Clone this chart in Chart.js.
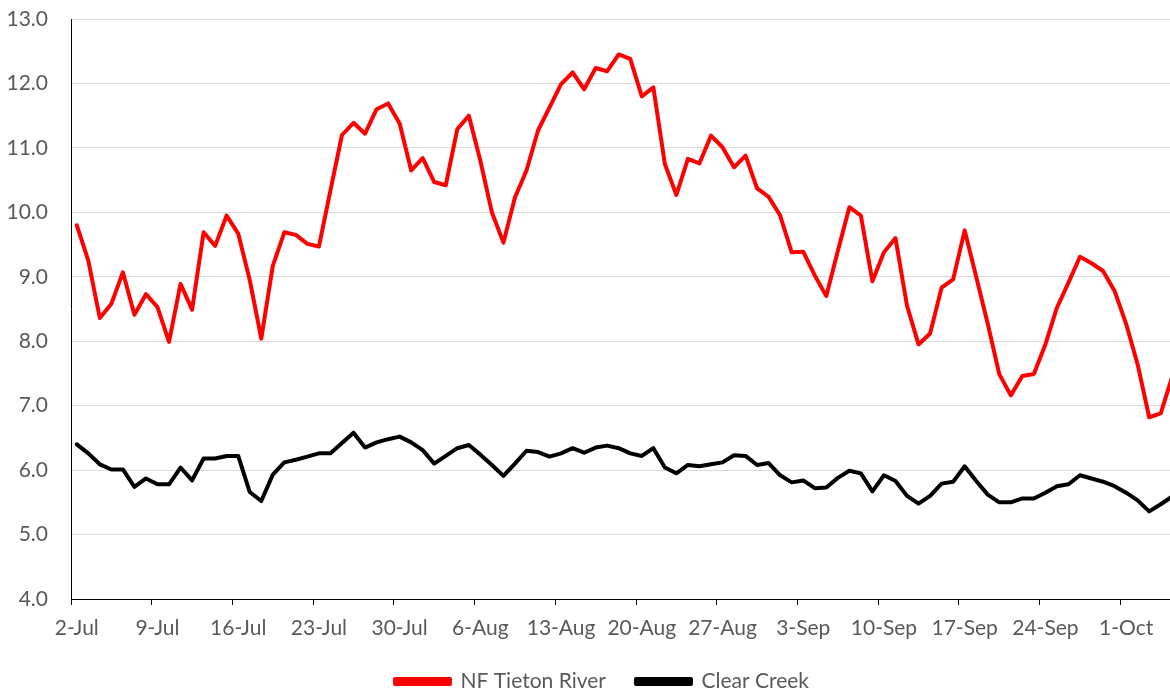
<!DOCTYPE html>
<html>
<head>
<meta charset="utf-8">
<script src="https://cdn.jsdelivr.net/npm/chart.js@4.4.1/dist/chart.umd.min.js"></script>
<style>
  html, body { margin: 0; padding: 0; background: #ffffff; overflow: hidden; }
  #wrap { width: 1204px; height: 692px; }
</style>
</head>
<body>
<div id="wrap"><canvas id="chart" width="1204" height="692"></canvas></div>
<script>
// Daily categories, 2 July to 5 October
const monthNames = ['Jul', 'Aug', 'Sep', 'Oct'];
const monthDays = [31, 31, 30, 31];
const firstDay = 2;
const dayCount = 96;

function buildDayLabels() {
  const out = [];
  let m = 0, d = firstDay;
  for (let i = 0; i < dayCount; i++) {
    out.push(d + '-' + monthNames[m]);
    d++;
    if (d > monthDays[m]) { d = 1; m++; }
  }
  return out;
}
const dayLabels = buildDayLabels();

// Series values (one per day)
const tietonRiver = [
  9.80, 9.25, 8.36, 8.58, 9.07, 8.41, 8.73, 8.53, 7.99, 8.89,
  8.49, 9.69, 9.48, 9.95, 9.67, 8.95, 8.04, 9.17, 9.69, 9.65,
  9.51, 9.47, 10.34, 11.20, 11.39, 11.22, 11.60, 11.69, 11.38, 10.65,
  10.84, 10.47, 10.42, 11.29, 11.50, 10.80, 10.00, 9.53, 10.23, 10.65,
  11.27, 11.63, 11.99, 12.17, 11.91, 12.24, 12.19, 12.45, 12.38, 11.80,
  11.94, 10.75, 10.27, 10.83, 10.76, 11.19, 11.01, 10.70, 10.88, 10.37,
  10.24, 9.95, 9.38, 9.39, 9.02, 8.70, 9.40, 10.08, 9.95, 8.93,
  9.38, 9.60, 8.55, 7.95, 8.12, 8.83, 8.96, 9.72, 9.00, 8.27,
  7.49, 7.16, 7.46, 7.49, 7.95, 8.52, 8.91, 9.31, 9.21, 9.09,
  8.78, 8.27, 7.64, 6.82, 6.88, 7.45
];

const clearCreek = [
  6.40, 6.26, 6.09, 6.01, 6.01, 5.74, 5.87, 5.78, 5.78, 6.04,
  5.84, 6.18, 6.18, 6.22, 6.22, 5.66, 5.52, 5.93, 6.12, 6.16,
  6.21, 6.26, 6.26, 6.42, 6.58, 6.35, 6.43, 6.48, 6.52, 6.43,
  6.31, 6.10, 6.22, 6.34, 6.39, 6.24, 6.08, 5.91, 6.10, 6.30,
  6.28, 6.21, 6.26, 6.34, 6.27, 6.35, 6.38, 6.34, 6.26, 6.22,
  6.34, 6.04, 5.95, 6.08, 6.06, 6.09, 6.12, 6.23, 6.22, 6.08,
  6.11, 5.92, 5.81, 5.84, 5.72, 5.73, 5.88, 5.99, 5.95, 5.67,
  5.92, 5.83, 5.60, 5.48, 5.60, 5.79, 5.82, 6.06, 5.83, 5.62,
  5.50, 5.50, 5.56, 5.56, 5.65, 5.75, 5.78, 5.92, 5.87, 5.82,
  5.75, 5.65, 5.53, 5.36, 5.47, 5.59
];

// Axis settings
const yMin = 4, yMax = 13, yStep = 1;
const labelEvery = 7;

const textColor = '#595959';
const baseFont = { family: 'Lato, "Open Sans", sans-serif', size: 21 };

// Moves the legend block so it is centred on the whole figure width
const legendOffset = {
  id: 'legendOffset',
  afterLayout(chart) {
    if (chart.legend) { chart.legend.left += 26; }
  }
};

new Chart(document.getElementById('chart'), {
  type: 'line',
  plugins: [legendOffset],
  data: {
    labels: dayLabels,
    datasets: [
      {
        label: 'NF Tieton River',
        data: tietonRiver,
        borderColor: '#ff0000',
        backgroundColor: '#ff0000',
        borderWidth: 4,
        pointRadius: 0,
        tension: 0,
        borderJoinStyle: 'round',
        borderCapStyle: 'round'
      },
      {
        label: 'Clear Creek',
        data: clearCreek,
        borderColor: '#000000',
        backgroundColor: '#000000',
        borderWidth: 4,
        pointRadius: 0,
        tension: 0,
        borderJoinStyle: 'round',
        borderCapStyle: 'round'
      }
    ]
  },
  options: {
    responsive: false,
    animation: false,
    layout: { padding: { top: 19, right: 26, left: 0, bottom: -10 } },
    plugins: {
      tooltip: { enabled: false },
      legend: {
        position: 'bottom',
        labels: {
          boxWidth: 55,
          boxHeight: 5,
          padding: 30,
          color: textColor,
          font: baseFont
        }
      }
    },
    scales: {
      x: {
        type: 'category',
        offset: true,
        afterFit: (s) => { s.height = 42; },
        grid: {
          offset: true,
          drawOnChartArea: false,
          drawTicks: true,
          tickLength: 6,
          tickWidth: 1,
          tickColor: (c) => (c.index !== undefined && c.index % labelEvery === 0) ? '#000000' : 'rgba(0,0,0,0)'
        },
        border: { color: '#000000', width: 1 },
        ticks: {
          autoSkip: false,
          maxRotation: 0,
          minRotation: 0,
          padding: 11,
          color: textColor,
          font: baseFont,
          callback: (v, i) => (i % labelEvery === 0 ? dayLabels[i] : '')
        }
      },
      y: {
        min: yMin,
        max: yMax,
        afterFit: (s) => { s.width = 71; s.paddingTop = 0; s.paddingBottom = 0; },
        grid: { color: '#d9d9d9', lineWidth: 1, drawTicks: false },
        border: { color: '#000000', width: 1 },
        ticks: {
          stepSize: yStep,
          padding: 23,
          color: textColor,
          font: baseFont,
          callback: (v) => Number(v).toFixed(1)
        }
      }
    }
  }
});
</script>
</body>
</html>
